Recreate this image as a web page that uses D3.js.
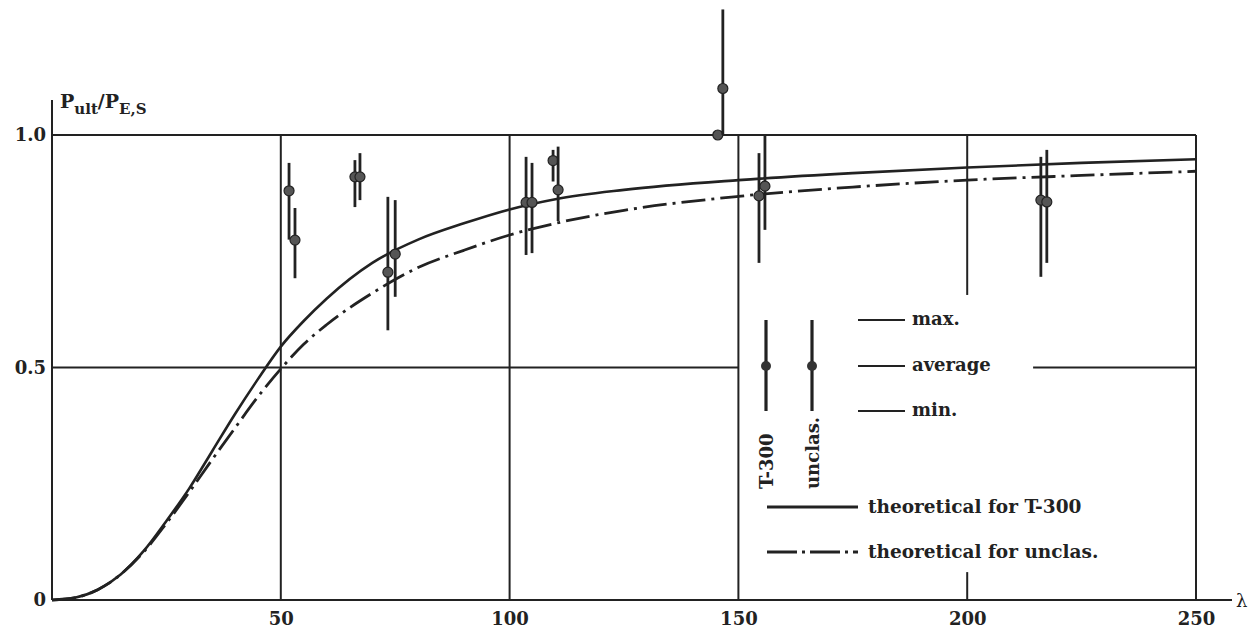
<!DOCTYPE html>
<html>
<head>
<meta charset="utf-8">
<script src="https://cdn.jsdelivr.net/npm/d3@7"></script>
<style>
  body { margin: 0; background: #fff; }
  svg { display: block; }
  text { font-family: "DejaVu Serif", serif; font-weight: bold; fill: #222; }
</style>
</head>
<body>
<svg id="chart" width="1252" height="632"></svg>
<script>
// measured tests: slenderness, average, max and min of P_ult/P_E,S
const lambdaVals = [51.8, 53.1, 66.2, 67.3, 73.4, 75.0, 103.6, 104.9, 109.5, 110.6, 145.5, 146.6, 154.5, 155.8, 216.1, 217.4];
const avgVals    = [0.88, 0.774, 0.91, 0.91, 0.705, 0.744, 0.855, 0.855, 0.945, 0.882, 1.0, 1.10, 0.869, 0.89, 0.86, 0.856];
const maxVals    = [0.94, 0.843, 0.946, 0.961, 0.867, 0.86, 0.953, 0.94, 0.968, 0.975, 1.0, 1.27, 0.961, 1.0, 0.953, 0.968];
const minVals    = [0.775, 0.692, 0.845, 0.86, 0.58, 0.652, 0.742, 0.746, 0.90, 0.815, 1.0, 1.0, 0.725, 0.796, 0.695, 0.725];

// theoretical curves
const curveLambda = [0, 5, 10, 15, 20, 25, 30, 35, 40, 45, 50, 55, 60, 70, 80, 90, 100, 110, 125, 150, 175, 200, 225, 250];
const theoT300    = [0, 0.005, 0.022, 0.055, 0.105, 0.17, 0.24, 0.32, 0.40, 0.475, 0.545, 0.60, 0.648, 0.725, 0.775, 0.81, 0.84, 0.862, 0.882, 0.903, 0.918, 0.93, 0.94, 0.948];
const theoUnclas  = [0, 0.005, 0.022, 0.055, 0.103, 0.165, 0.232, 0.302, 0.37, 0.437, 0.497, 0.55, 0.592, 0.66, 0.715, 0.752, 0.785, 0.81, 0.838, 0.868, 0.888, 0.903, 0.913, 0.922];

const xTicks = [50, 100, 150, 200, 250];
const yTicks = [0, 0.5, 1.0];
const yTickLabels = ["0", "0.5", "1.0"];

const svg = d3.select("#chart");
const x = d3.scaleLinear().domain([0, 250]).range([52, 1196]);
const y = d3.scaleLinear().domain([0, 1]).range([600, 135]);

const ink = "#222";

// grid lines (the scan has gaps where the legend sits)
const hGrid = [
  { v: 1.0, from: 0, to: 250 },
  { v: 0.5, from: 0, to: 150 },
  { v: 0.5, from: 214.4, to: 250 }
];
const vGrid = [
  { v: 50, from: 0, to: 1 },
  { v: 100, from: 0, to: 1 },
  { v: 150, from: 0, to: 1 },
  { v: 200, from: 0.656, to: 1 },
  { v: 200, from: 0, to: 0.06 },
  { v: 250, from: 0, to: 1 }
];

const grid = svg.append("g").attr("stroke", ink).attr("stroke-width", 2);
grid.selectAll("line.h").data(hGrid).enter().append("line")
  .attr("class", "h")
  .attr("x1", d => x(d.from)).attr("x2", d => x(d.to))
  .attr("y1", d => y(d.v)).attr("y2", d => y(d.v));
grid.selectAll("line.v").data(vGrid).enter().append("line")
  .attr("class", "v")
  .attr("x1", d => x(d.v)).attr("x2", d => x(d.v))
  .attr("y1", d => y(d.from)).attr("y2", d => y(d.to));

// axes
svg.append("line").attr("stroke", ink).attr("stroke-width", 2)
  .attr("x1", x(0)).attr("x2", 1232).attr("y1", y(0)).attr("y2", y(0));
svg.append("line").attr("stroke", ink).attr("stroke-width", 2)
  .attr("x1", x(0)).attr("x2", x(0)).attr("y1", y(0)).attr("y2", 100);

const xAxis = svg.append("g")
  .attr("transform", "translate(0," + y(0) + ")")
  .call(d3.axisBottom(x).tickValues(xTicks).tickSize(0).tickPadding(12));
xAxis.select(".domain").remove();
xAxis.selectAll("text").style("font-size", "18px").style("font-family", "DejaVu Serif").style("font-weight", "bold").attr("fill", ink);

const yAxis = svg.append("g")
  .attr("transform", "translate(" + x(0) + ",0)")
  .call(d3.axisLeft(y).tickValues(yTicks).tickSize(0).tickPadding(6)
    .tickFormat((d, i) => yTickLabels[i]));
yAxis.select(".domain").remove();
yAxis.selectAll("text").style("font-size", "18px").style("font-family", "DejaVu Serif").style("font-weight", "bold").attr("fill", ink);

svg.append("text").attr("x", 1236).attr("y", y(0) + 7).style("font-size", "18px").style("font-weight", "normal").text("λ");

// y axis title
const yt = svg.append("text").attr("x", 60).attr("y", 108).style("font-size", "19px");
yt.append("tspan").text("P");
yt.append("tspan").attr("dy", 6).style("font-size", "15px").text("ult");
yt.append("tspan").attr("dy", -6).text("/P");
yt.append("tspan").attr("dy", 6).style("font-size", "15px").text("E,S");

// theoretical curves
const line = d3.line().x(d => x(d[0])).y(d => y(d[1])).curve(d3.curveMonotoneX);
svg.append("path")
  .datum(curveLambda.map((l, i) => [l, theoT300[i]]))
  .attr("d", line).attr("fill", "none").attr("stroke", ink).attr("stroke-width", 2.6);
svg.append("path")
  .datum(curveLambda.map((l, i) => [l, theoUnclas[i]]))
  .attr("d", line).attr("fill", "none").attr("stroke", ink).attr("stroke-width", 2.8)
  .attr("stroke-dasharray", "24,6,3,6");

// tests: min-max bar with average dot
const tests = lambdaVals.map((l, i) => ({ l: l, avg: avgVals[i], max: maxVals[i], min: minVals[i] }));
const pts = svg.append("g").selectAll("g").data(tests).enter().append("g");
pts.append("line")
  .attr("x1", d => x(d.l)).attr("x2", d => x(d.l))
  .attr("y1", d => y(d.max)).attr("y2", d => y(d.min))
  .attr("stroke", ink).attr("stroke-width", 2.8);
pts.append("circle")
  .attr("cx", d => x(d.l)).attr("cy", d => y(d.avg)).attr("r", 5)
  .attr("fill", "#555").attr("stroke", ink).attr("stroke-width", 1.2);

// legend
const lg = svg.append("g");
const legendBars = [{ x: 766, label: "T-300" }, { x: 812, label: "unclas." }];
lg.selectAll("line.b").data(legendBars).enter().append("line")
  .attr("x1", d => d.x).attr("x2", d => d.x).attr("y1", 320).attr("y2", 411)
  .attr("stroke", ink).attr("stroke-width", 3.2);
lg.selectAll("circle").data(legendBars).enter().append("circle")
  .attr("cx", d => d.x).attr("cy", 366).attr("r", 5).attr("fill", "#333");
lg.selectAll("text.r").data(legendBars).enter().append("text")
  .attr("transform", d => "translate(" + (d.x + 7) + ",489) rotate(-90)")
  .style("font-size", "18px").text(d => d.label);

const stats = [{ y: 320, label: "max." }, { y: 366, label: "average" }, { y: 411, label: "min." }];
lg.selectAll("line.s").data(stats).enter().append("line")
  .attr("x1", 858).attr("x2", 905).attr("y1", d => d.y).attr("y2", d => d.y)
  .attr("stroke", ink).attr("stroke-width", 2.2);
lg.selectAll("text.s").data(stats).enter().append("text")
  .attr("x", 912).attr("y", d => d.y + 5).style("font-size", "18px").text(d => d.label);

const theo = [{ y: 507, label: "theoretical for T-300", dash: null }, { y: 552, label: "theoretical for unclas.", dash: "30,5,3,5" }];
lg.selectAll("line.t").data(theo).enter().append("line")
  .attr("x1", 767).attr("x2", 858).attr("y1", d => d.y).attr("y2", d => d.y)
  .attr("stroke", ink).attr("stroke-width", 3.2)
  .attr("stroke-dasharray", d => d.dash);
lg.selectAll("text.t").data(theo).enter().append("text")
  .attr("x", 868).attr("y", d => d.y + 6).style("font-size", "18.5px").text(d => d.label);
</script>
</body>
</html>
